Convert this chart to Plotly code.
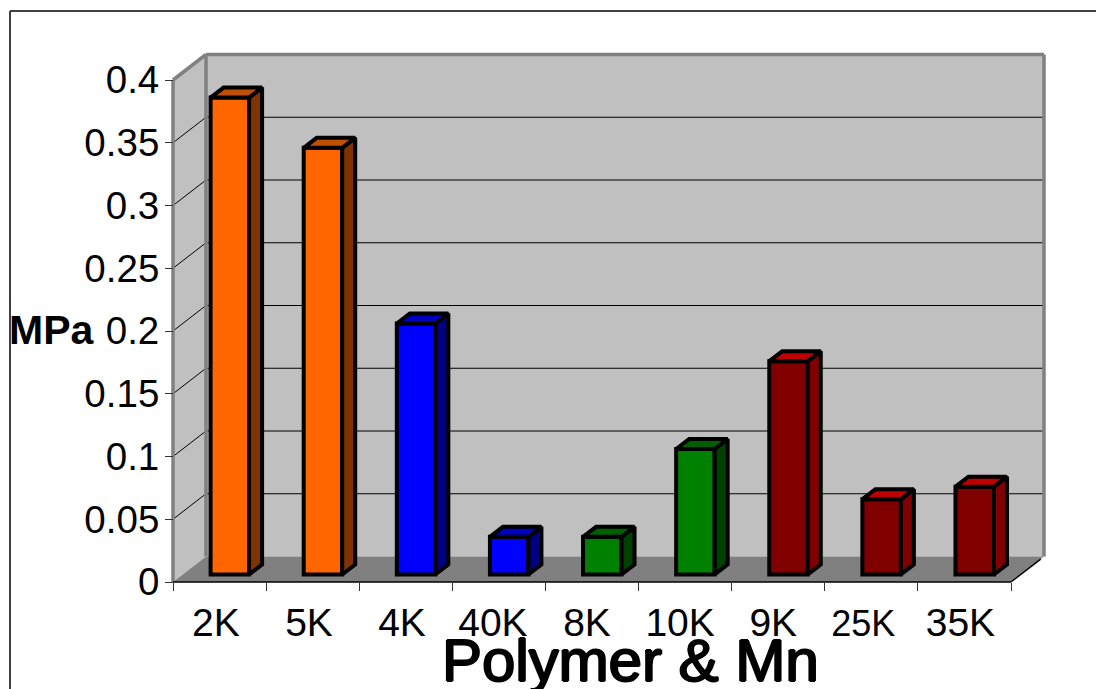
import plotly.graph_objects as go

categories = ["2K", "5K", "4K", "40K", "8K", "10K", "9K", "25K", "35K"]
values = [0.38, 0.34, 0.20, 0.03, 0.03, 0.10, 0.17, 0.06, 0.07]
front_colors = ["#FF6600", "#FF6600", "#0000FF", "#0000FF", "#008000", "#008000", "#800000", "#800000", "#800000"]
top_colors = ["#C05000", "#C05000", "#0000C0", "#0000C0", "#006000", "#006000", "#C00000", "#C00000", "#C00000"]
side_colors = ["#803300", "#803300", "#000080", "#000080", "#004000", "#004000", "#800000", "#800000", "#800000"]
y_ticks = [0, 0.05, 0.1, 0.15, 0.2, 0.25, 0.3, 0.35, 0.4]
y_labels = ["0", "0.05", "0.1", "0.15", "0.2", "0.25", "0.3", "0.35", "0.4"]
label_shift_px = [-3.6, -3.7, -3.8, -6, -5, -5, -5, -8, -4]

W, H = 1096, 689
X0, X9, Y0, Y4 = 173, 1011, 582, 80
UX = (X9 - X0) / 9
UY = (Y0 - Y4) / 0.4
DOM_L, DOM_R, DOM_T, DOM_B = 160, 1056, 45, 592

def ux(px):
    return px / UX

def uy(px):
    return px / UY

WALL_DX, WALL_DY = ux(33), uy(25.5)
BAR_DX, BAR_DY = ux(13), uy(10)
BAR_W = ux(38.5)
BAR_START = ux(37.6)
BAR_BASE = uy(7.5)
BORDER = 4

shapes = []
def poly(pts, fill, line=None, width=0):
    path = "M " + " L ".join(f"{x},{y}" for x, y in pts) + " Z"
    shapes.append(dict(type="path", xref="x", yref="y", path=path, fillcolor=fill, layer="below",
                       line=dict(color=line or fill, width=width)))

def seg(a, b, color, width=1):
    shapes.append(dict(type="line", xref="x", yref="y", x0=a[0], y0=a[1], x1=b[0], y1=b[1], layer="below",
                       line=dict(color=color, width=width)))

TOP = y_ticks[-1]
poly([(WALL_DX, WALL_DY), (WALL_DX, TOP + WALL_DY), (9 + WALL_DX, TOP + WALL_DY), (9 + WALL_DX, WALL_DY)],
     "#C0C0C0")
poly([(0, 0), (0, TOP), (WALL_DX, TOP + WALL_DY), (WALL_DX, WALL_DY)], "#C0C0C0")
poly([(0, 0), (9, 0), (9 + WALL_DX, WALL_DY), (WALL_DX, WALL_DY)], "#808080")
for v in y_ticks[1:-1]:
    seg((0, v), (WALL_DX, v + WALL_DY), "#000000")
    seg((WALL_DX, v + WALL_DY), (9 + WALL_DX, v + WALL_DY), "#000000")
for a, b in [((WALL_DX, WALL_DY), (WALL_DX, TOP + WALL_DY)),
             ((WALL_DX, TOP + WALL_DY), (9 + WALL_DX, TOP + WALL_DY)),
             ((9 + WALL_DX, TOP + WALL_DY), (9 + WALL_DX, WALL_DY)),
             ((0, 0), (0, TOP)),
             ((0, TOP), (WALL_DX, TOP + WALL_DY))]:
    seg(a, b, "#808080", 3.5)
seg((9, 0), (9 + WALL_DX * 0.9, WALL_DY * 0.9), "#000000", 1.5)

shapes.append(dict(type="line", xref="paper", yref="paper", x0=10 / W, x1=1, y0=1 - 11 / H, y1=1 - 11 / H,
                   line=dict(color="#404040", width=2)))
shapes.append(dict(type="line", xref="paper", yref="paper", x0=10 / W, x1=10 / W, y0=0, y1=1 - 11 / H,
                   line=dict(color="#404040", width=2)))

fig = go.Figure()
fig.add_trace(go.Bar(
    x=[i for i in range(len(categories))], y=values, base=BAR_BASE, width=BAR_W, offset=BAR_START,
    marker=dict(color=front_colors, line=dict(color="#000000", width=BORDER)),
    customdata=categories, hovertemplate="%{customdata}: %{y}<extra></extra>",
))

for i, v in enumerate(values):
    xl = i + BAR_START
    xr = xl + BAR_W
    yb = BAR_BASE
    yt = BAR_BASE + v
    fig.add_trace(go.Scatter(
        x=[xr, xr + BAR_DX, xr + BAR_DX, xr, xr], y=[yb, yb + BAR_DY, yt + BAR_DY, yt, yb],
        mode="lines", fill="toself", fillcolor=side_colors[i],
        line=dict(color="#000000", width=BORDER), hoverinfo="skip"))
    fig.add_trace(go.Scatter(
        x=[xl, xl + BAR_DX, xr + BAR_DX, xr, xl], y=[yt, yt + BAR_DY, yt + BAR_DY, yt, yt],
        mode="lines", fill="toself", fillcolor=top_colors[i],
        line=dict(color="#000000", width=BORDER), hoverinfo="skip"))

fig.add_trace(go.Scatter(x=[0, 9], y=[0, 0], xaxis="x2", mode="lines",
                         line=dict(color="#000000", width=1.5), hoverinfo="skip"))

ticktext = [f'<span style="font-size:36px">{c}</span>' if c == "25K" else c for c in categories]
FONT = "Liberation Sans, Arial, sans-serif"
STROKE = "1.1px 0 0 #000, -1.1px 0 0 #000, 0 1.1px 0 #000, 0 -1.1px 0 #000"
axis_y_pos = 1 - Y0 / H
fig.update_layout(
    width=W, height=H, margin=dict(l=0, r=0, t=0, b=0, autoexpand=False), autosize=False,
    paper_bgcolor="#FFFFFF", plot_bgcolor="rgba(0,0,0,0)", showlegend=False, shapes=shapes,
    xaxis=dict(domain=[DOM_L / W, DOM_R / W], range=[ux(DOM_L - X0), ux(DOM_R - X0)],
               anchor="free", position=axis_y_pos, showgrid=False, zeroline=False, showline=False,
               tickmode="array", tickvals=[i + 0.5 + ux(s) for i, s in enumerate(label_shift_px)],
               ticktext=ticktext, ticks="", tickangle=0, ticklabelstandoff=14,
               tickfont=dict(family=FONT, size=39, color="#000000")),
    xaxis2=dict(domain=[X0 / W, X9 / W], range=[0, 9], anchor="free", position=axis_y_pos,
                showgrid=False, zeroline=False, showline=False, tickmode="array",
                tickvals=list(range(10)), showticklabels=False, ticks="outside", ticklen=8,
                tickwidth=1, tickcolor="#333333"),
    yaxis=dict(domain=[1 - DOM_B / H, 1 - DOM_T / H], range=[uy(Y0 - DOM_B), uy(Y0 - DOM_T)],
               anchor="free", position=X0 / W, showgrid=False, zeroline=False, showline=False,
               tickmode="array", tickvals=y_ticks, ticktext=y_labels, ticks="outside", ticklen=8,
               tickwidth=1, tickcolor="#333333", ticklabelstandoff=-2,
               tickfont=dict(family=FONT, size=38.5, color="#000000")),
    annotations=[
        dict(text="<b>MPa</b>", xref="paper", yref="paper", x=52 / W, y=1 - 330 / H, showarrow=False,
             xanchor="center", yanchor="middle",
             font=dict(family=FONT, size=41, color="#000000")),
        dict(text="Polymer &amp; Mn", xref="paper", yref="paper", x=630 / W, y=1 - 660 / H, showarrow=False,
             xanchor="center", yanchor="middle",
             font=dict(family=FONT, size=60, color="#000000", shadow=STROKE)),
    ],
)
fig.write_html("out.html", config={"displayModeBar": False},
               post_script="document.body.style.margin='0';document.body.style.overflow='hidden';")
